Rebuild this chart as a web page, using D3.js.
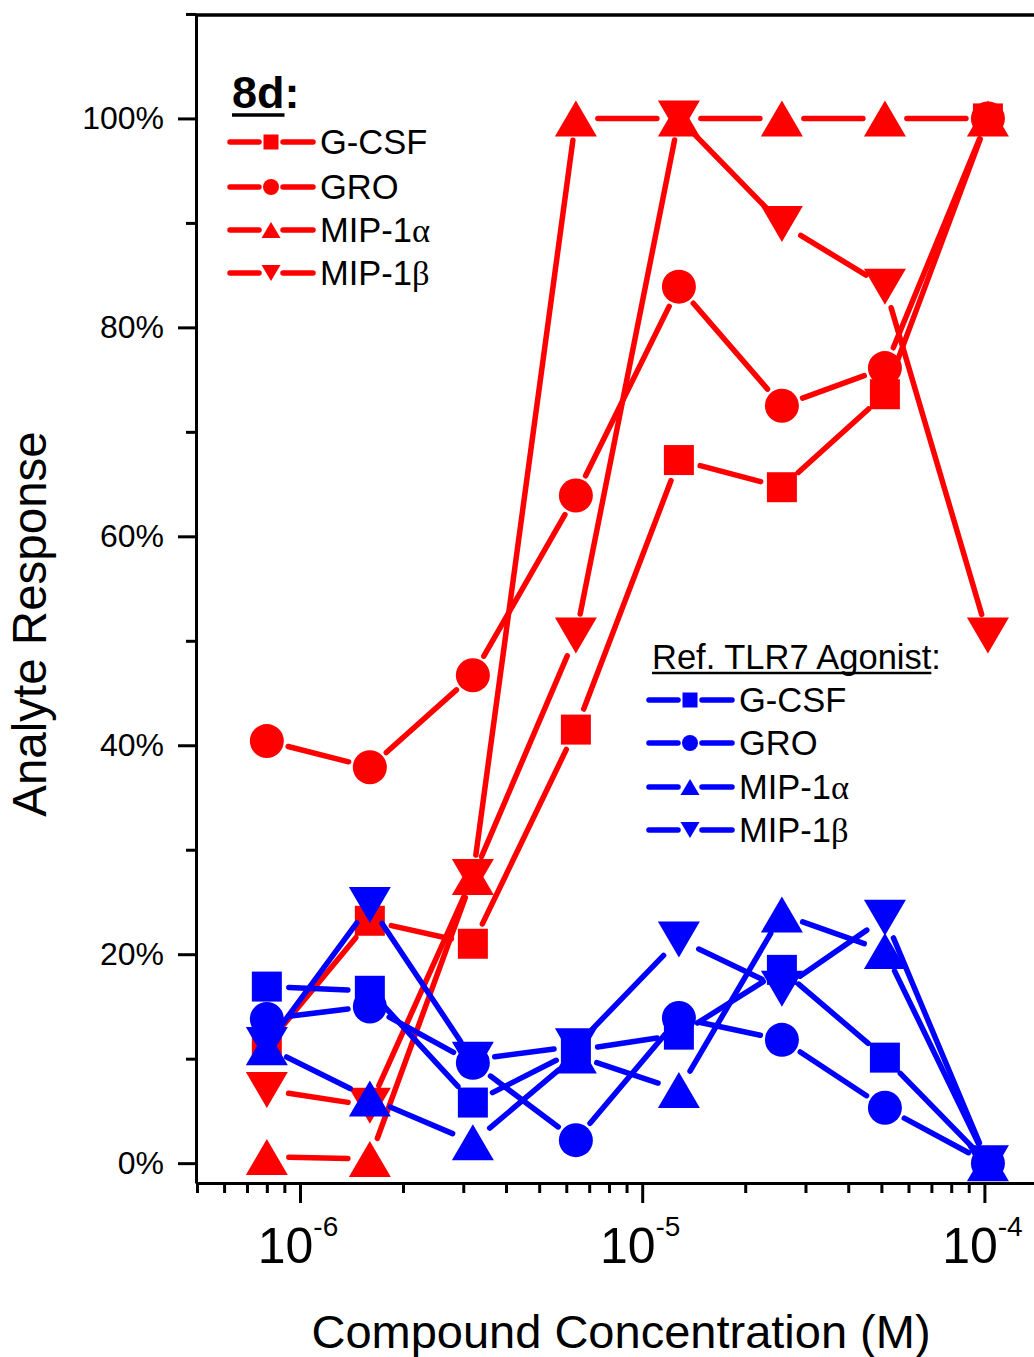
<!DOCTYPE html>
<html>
<head>
<meta charset="utf-8">
<script src="https://cdn.jsdelivr.net/npm/d3@7"></script>
<style>
  body { margin: 0; background: #fff; }
  svg { display: block; font-family: "Liberation Sans", Arial, sans-serif; }
</style>
</head>
<body>
<svg id="chart" width="1034" height="1357"></svg>
<script>
// Compound concentrations (M)
const concentrations = [8e-7, 1.6e-6, 3.2e-6, 6.4e-6, 1.28e-5, 2.56e-5, 5.12e-5, 1.024e-4];
const analytes = ['G-CSF', 'GRO', 'MIP-1α', 'MIP-1β'];

// 8d responses (%)
const gcsf8d  = [11.3, 23.2, 21.0, 41.5, 67.3, 64.7, 73.6, 100];
const gro8d   = [40.4, 37.9, 46.7, 63.9, 83.9, 72.5, 76.1, 100];
const mip1a8d = [0.6, 0.4, 27.4, 100, 100, 100, 100, 100];
const mip1b8d = [7.0, 5.5, 27.4, 50.5, 100, 89.9, 83.9, 50.5];

// Ref. TLR7 agonist responses (%)
const gcsfRef  = [16.9, 16.5, 5.8, 10.8, 12.3, 18.5, 10.1, 0];
const groRef   = [13.8, 15.0, 9.6, 2.2, 13.9, 11.8, 5.3, 0];
const mip1aRef = [11.1, 6.2, 2.0, 10.3, 7.0, 23.8, 20.3, 0];
const mip1bRef = [11.3, 24.7, 9.9, 11.2, 21.4, 16.7, 23.5, 0];

// Axis ticks
const yMajorTicks = [0, 20, 40, 60, 80, 100];
const yMinorTicks = [10, 30, 50, 70, 90, 110];
const xMajorTicks = [1e-6, 1e-5, 1e-4];
const xExponents = ['-6', '-5', '-4'];

const RED = '#ff0000';
const BLUE = '#0000ff';
const shapes = ['square', 'circle', 'up', 'down'];

const svg = d3.select('#chart');

// Scales (one decade ~342 px, 1e-6 sits at x=300)
const decade = 342.2;
const x = d3.scaleLog()
    .domain([5e-7, 1.5e-4])
    .range([300 + Math.log10(0.5) * decade, 300 + Math.log10(150) * decade]);

const y = d3.scaleLinear()
    .domain([-1.9, 109.9])
    .range([1183, 15]);

const axisX0 = 196;

// Marker path for a shape
function markerPath(shape, s) {
    if (shape === 'square') {
        const h = s.sq / 2;
        return `M${-h},${-h}H${h}V${h}H${-h}Z`;
    }
    if (shape === 'circle') {
        const r = s.r;
        return `M${-r},0A${r},${r} 0 1,0 ${r},0A${r},${r} 0 1,0 ${-r},0Z`;
    }
    const w = s.tw / 2, h = s.th / 2;
    if (shape === 'up') return `M0,${-h}L${w},${h}L${-w},${h}Z`;
    return `M0,${h}L${w},${-h}L${-w},${-h}Z`;
}

const bigMarker = { sq: 30, r: 17, tw: 42, th: 36 };
const smallMarker = { sq: 15, r: 8, tw: 19, th: 16 };

// Plot groups
const groups = [
    { color: RED, series: [gcsf8d, gro8d, mip1a8d, mip1b8d] },
    { color: BLUE, series: [gcsfRef, groRef, mip1aRef, mip1bRef] }
];

const plot = svg.append('g');
const gap = 22;

groups.forEach(grp => {
    grp.series.forEach((vals, i) => {
        const pts = vals.map((v, j) => [x(concentrations[j]), y(v)]);
        const g = plot.append('g');

        // line segments with a gap round each symbol
        for (let j = 0; j < pts.length - 1; j++) {
            const [x1, y1] = pts[j], [x2, y2] = pts[j + 1];
            const d = Math.hypot(x2 - x1, y2 - y1);
            if (d <= 2 * gap + 2) continue;
            const ux = (x2 - x1) / d, uy = (y2 - y1) / d;
            g.append('line')
                .attr('x1', x1 + ux * gap).attr('y1', y1 + uy * gap)
                .attr('x2', x2 - ux * gap).attr('y2', y2 - uy * gap)
                .attr('stroke', grp.color)
                .attr('stroke-width', 5.5)
                .attr('stroke-linecap', 'round');
        }

        g.selectAll('path.mk')
            .data(pts)
            .join('path')
            .attr('class', 'mk')
            .attr('transform', d => `translate(${d[0]},${d[1]})`)
            .attr('d', markerPath(shapes[i], bigMarker))
            .attr('fill', grp.color);
    });
});

// Axes
const axisStyle = sel => {
    sel.selectAll('.domain').attr('stroke', '#000').attr('stroke-width', 3);
    sel.selectAll('.tick line').attr('stroke', '#000').attr('stroke-width', 3);
};

svg.append('g')
    .attr('transform', `translate(${axisX0},0)`)
    .call(d3.axisLeft(y).tickValues(yMajorTicks).tickSize(18).tickSizeOuter(0)
        .tickPadding(14).tickFormat(d => d + '%'))
    .call(axisStyle)
    .call(sel => sel.selectAll('text')
        .attr('font-size', 32)
        .attr('font-family', '"Liberation Sans", Arial, sans-serif')
        .attr('fill', '#000'));

svg.append('g')
    .attr('transform', `translate(${axisX0},0)`)
    .call(d3.axisLeft(y).tickValues(yMinorTicks).tickSize(10).tickFormat(''))
    .call(axisStyle)
    .call(sel => sel.select('.domain').remove());

// log minor ticks
const xMinorTicks = [];
for (let k = -7; k <= -4; k++) {
    for (let m = 2; m <= 9; m++) {
        const v = m * Math.pow(10, k);
        if (v >= x.domain()[0] && v <= x.domain()[1]) xMinorTicks.push(v);
    }
}

svg.append('g')
    .attr('transform', 'translate(0,1183)')
    .call(d3.axisBottom(x).tickValues(xMajorTicks).tickSize(20).tickSizeOuter(0).tickFormat(''))
    .call(axisStyle);

svg.append('g')
    .attr('transform', 'translate(0,1183)')
    .call(d3.axisBottom(x).tickValues(xMinorTicks).tickSize(10).tickFormat(''))
    .call(axisStyle)
    .call(sel => sel.select('.domain').remove());

// top frame line
svg.append('line')
    .attr('x1', axisX0).attr('x2', x.range()[1])
    .attr('y1', y(109.9)).attr('y2', y(109.9))
    .attr('stroke', '#000').attr('stroke-width', 3.5);

// x tick labels 10^n
xMajorTicks.forEach((v, i) => {
    const t = svg.append('text')
        .attr('x', x(v) - 2)
        .attr('y', 1263)
        .attr('text-anchor', 'middle')
        .attr('fill', '#000');
    t.append('tspan').attr('font-size', 50).text('10');
    t.append('tspan').attr('font-size', 28).attr('dy', -27).text(xExponents[i]);
});

// axis titles
svg.append('text')
    .attr('x', 621).attr('y', 1348)
    .attr('text-anchor', 'middle')
    .attr('font-size', 47)
    .text('Compound Concentration (M)');

svg.append('text')
    .attr('transform', 'translate(46,624) rotate(-90)')
    .attr('text-anchor', 'middle')
    .attr('font-size', 47.5)
    .text('Analyte Response');

// Legends
function drawLegend(title, bold, titleX, titleY, titleSize, color, dashX, rowsY) {
    const lg = svg.append('g');
    const tt = lg.append('text')
        .attr('x', titleX).attr('y', titleY)
        .attr('font-size', titleSize)
        .attr('font-weight', bold ? 'bold' : 'normal')
        .text(title);
    const w = tt.node().getComputedTextLength();
    lg.append('line')
        .attr('x1', titleX).attr('x2', titleX + w)
        .attr('y1', titleY + (bold ? 7 : 4)).attr('y2', titleY + (bold ? 7 : 4))
        .attr('stroke', '#000').attr('stroke-width', bold ? 3.5 : 2.5);
    lg.append('text')
        .attr('x', titleX + w).attr('y', titleY)
        .attr('font-size', titleSize)
        .attr('font-weight', bold ? 'bold' : 'normal')
        .text(':');

    analytes.forEach((name, i) => {
        const ry = rowsY[i];
        [[dashX, dashX + 29], [dashX + 53, dashX + 83]].forEach(([a, b]) => {
            lg.append('line')
                .attr('x1', a).attr('x2', b).attr('y1', ry).attr('y2', ry)
                .attr('stroke', color).attr('stroke-width', 5.5)
                .attr('stroke-linecap', 'round');
        });
        lg.append('path')
            .attr('transform', `translate(${dashX + 41},${ry})`)
            .attr('d', markerPath(shapes[i], smallMarker))
            .attr('fill', color);
        const label = lg.append('text')
            .attr('x', dashX + 90).attr('y', ry)
            .attr('dy', '0.36em')
            .attr('font-size', 34.5);
        label.append('tspan').text(name.slice(0, -1));
        const last = name.slice(-1);
        label.append('tspan')
            .attr('font-family', /[αβ]/.test(last) ? '"Liberation Serif", serif' : null)
            .text(last);
    });
}

drawLegend('8d', true, 232, 108, 45, RED, 230, [142, 187, 230, 273]);
drawLegend('Ref. TLR7 Agonist', false, 652, 669, 34.5, BLUE, 649, [700, 743, 787, 830]);
</script>
</body>
</html>
